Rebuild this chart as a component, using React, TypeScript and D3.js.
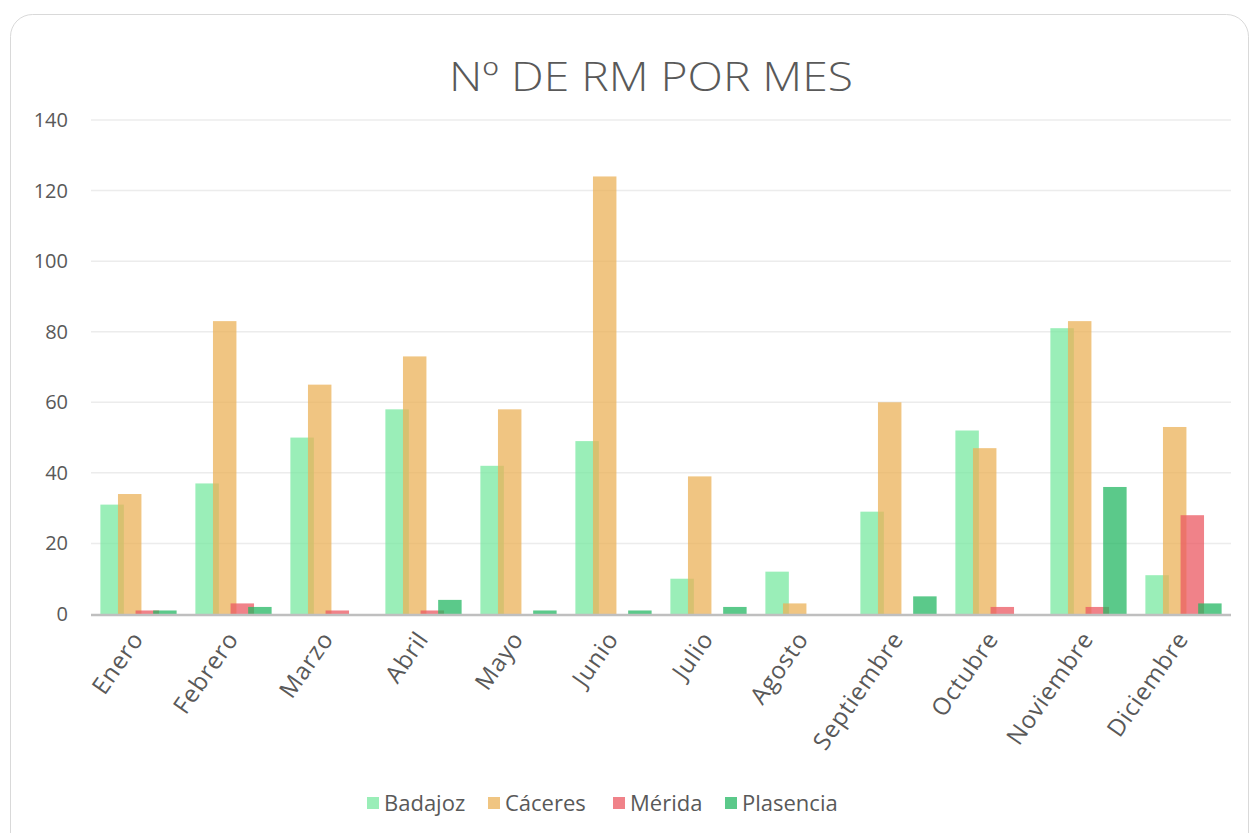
import React from "react";
import * as d3 from "d3";

const months = ["Enero","Febrero","Marzo","Abril","Mayo","Junio","Julio","Agosto","Septiembre","Octubre","Noviembre","Diciembre"];
const seriesNames = ["Badajoz","Cáceres","Mérida","Plasencia"];
const badajoz = [31,37,50,58,42,49,10,12,29,52,81,11];
const caceres = [34,83,65,73,58,124,39,3,60,47,83,53];
const merida = [1,3,1,1,0,0,0,0,0,2,2,28];
const plasencia = [1,2,0,4,1,1,2,0,5,0,36,3];
const yTicks = [0,20,40,60,80,100,120,140];
const colors = ["#78e8a0","#ebb258","#eb5862","#24b763"];

const W = 1250, H = 833;
const left = 91, right = 1231, top = 120, bottom = 614;
const font = "'Open Sans', 'DejaVu Sans', sans-serif";
const textColor = "#595959";

export default function App() {
  const series = [badajoz, caceres, merida, plasencia];
  const x = d3.scaleBand<string>().domain(months).range([left, right]).paddingInner(0).paddingOuter(0);
  const y = d3.scaleLinear().domain([0, 140]).range([bottom, top]);
  const band = x.bandwidth();
  // Excel-like: gap width 80%, overlap 25%
  const barW = band / (3.25 + 0.8);
  const step = barW * 0.75;
  const groupW = barW + 3 * step;

  const legendX = [367, 488, 613, 725];

  return (
    <svg width={W} height={H} style={{ position: "absolute", left: 0, top: 0, background: "#fff" }}>
      <rect x={10.5} y={14.5} width={1238} height={880} rx={22} ry={22} fill="#fff" stroke="#d9d9d9" strokeWidth={1} />
      <text x={651} y={91} textAnchor="middle" fontFamily={font} fontSize={40} fill={textColor} textLength={404} lengthAdjust="spacingAndGlyphs" style={{ fontWeight: 300 }}>Nº DE RM POR MES</text>
      {yTicks.map((t) => (
        <g key={t}>
          {t > 0 && <line x1={left} x2={right} y1={y(t)} y2={y(t)} stroke="#ececec" strokeWidth={1.5} />}
          <text x={68} y={y(t)} dy="0.35em" textAnchor="end" fontFamily={font} fontSize={20} fill={textColor}>{t}</text>
        </g>
      ))}
      {series.map((vals, si) => (
        <g key={si}>
          {vals.map((v, mi) => {
            const gx = (x(months[mi]) as number) + band / 2 - groupW / 2 + si * step;
            const h = bottom - y(v);
            if (v === 0) return null;
            return <rect key={mi} x={gx} y={y(v)} width={barW} height={h} fill={colors[si]} fillOpacity={0.75} />;
          })}
        </g>
      ))}
      <line x1={left} x2={right} y1={bottom + 1} y2={bottom + 1} stroke="#bfbfbf" strokeWidth={2.5} />
      {months.map((m) => {
        const cx = (x(m) as number) + band / 2 + 6;
        return (
          <text key={m} transform={`translate(${cx},${bottom + 25}) rotate(-55)`} textAnchor="end" fontFamily={font} fontSize={24} letterSpacing={0.8} fill={textColor}>{m}</text>
        );
      })}
      {seriesNames.map((n, i) => (
        <g key={n}>
          <rect x={legendX[i]} y={797} width={12} height={12} fill={colors[i]} fillOpacity={0.75} />
          <text x={legendX[i] + 17} y={803} dy="0.35em" fontFamily={font} fontSize={22} fill={textColor}>{n}</text>
        </g>
      ))}
    </svg>
  );
}
